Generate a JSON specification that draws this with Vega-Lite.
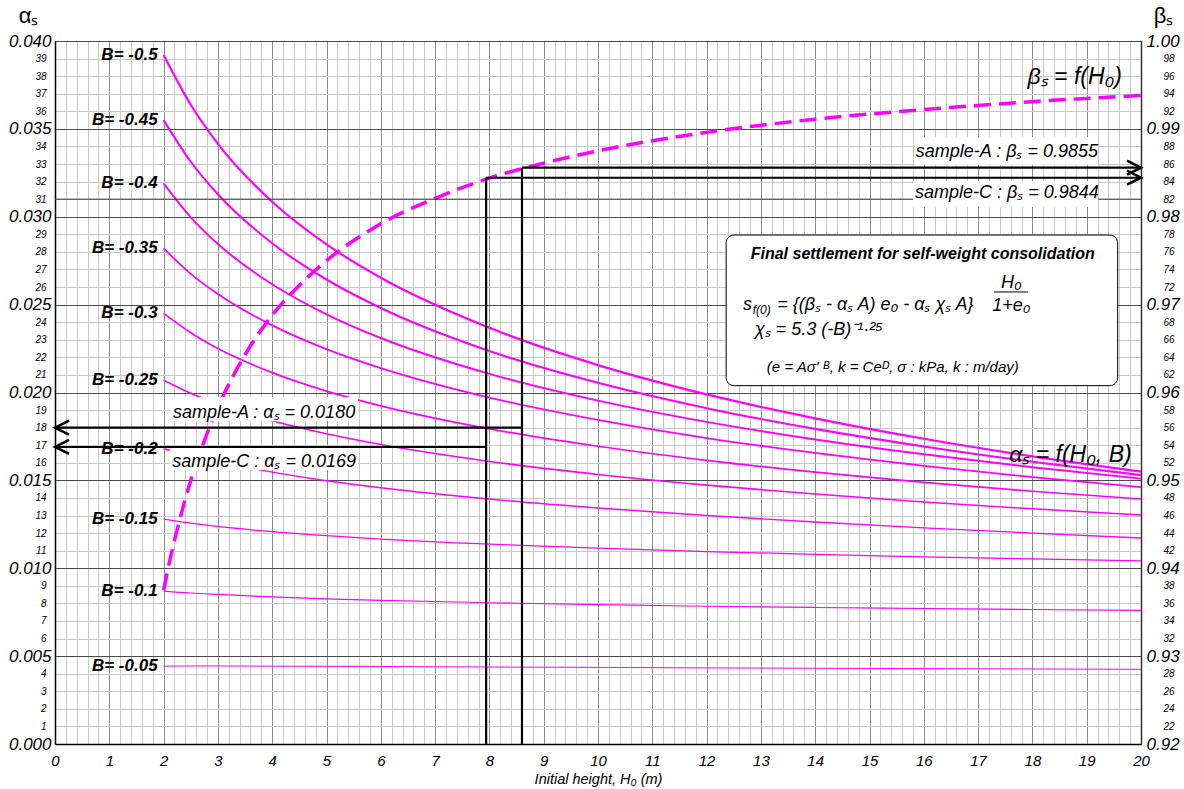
{
"$schema":"https://vega.github.io/schema/vega-lite/v6.json",
"width":1086,"height":703,
"autosize":{"type":"none"},
"padding":{"left":55,"top":41,"right":43,"bottom":45},
"background":"white",
"config":{"view":{"stroke":"#666","strokeWidth":1},"font":"Liberation Sans"},
"datasets":{
"curves":[
{"B":"-0.5","H":2,"a":0.0392},{"B":"-0.5","H":2.5,"a":0.03637},{"B":"-0.5","H":3,"a":0.03415},{"B":"-0.5","H":4,"a":0.03085},{"B":"-0.5","H":5,"a":0.02843},{"B":"-0.5","H":6,"a":0.02653},{"B":"-0.5","H":8,"a":0.02368},{"B":"-0.5","H":10,"a":0.02156},{"B":"-0.5","H":12,"a":0.01989},{"B":"-0.5","H":14,"a":0.01853},{"B":"-0.5","H":16,"a":0.01737},{"B":"-0.5","H":18,"a":0.01637},{"B":"-0.5","H":20,"a":0.0155},
{"B":"-0.45","H":2,"a":0.0355},{"B":"-0.45","H":2.5,"a":0.03313},{"B":"-0.45","H":3,"a":0.03128},{"B":"-0.45","H":4,"a":0.02849},{"B":"-0.45","H":5,"a":0.02643},{"B":"-0.45","H":6,"a":0.02481},{"B":"-0.45","H":8,"a":0.02236},{"B":"-0.45","H":10,"a":0.02055},{"B":"-0.45","H":12,"a":0.01911},{"B":"-0.45","H":14,"a":0.01793},{"B":"-0.45","H":16,"a":0.01693},{"B":"-0.45","H":18,"a":0.01606},{"B":"-0.45","H":20,"a":0.0153},
{"B":"-0.4","H":2,"a":0.0319},{"B":"-0.4","H":2.5,"a":0.02997},{"B":"-0.4","H":3,"a":0.02845},{"B":"-0.4","H":4,"a":0.02616},{"B":"-0.4","H":5,"a":0.02445},{"B":"-0.4","H":6,"a":0.0231},{"B":"-0.4","H":8,"a":0.02106},{"B":"-0.4","H":10,"a":0.01954},{"B":"-0.4","H":12,"a":0.01833},{"B":"-0.4","H":14,"a":0.01733},{"B":"-0.4","H":16,"a":0.01649},{"B":"-0.4","H":18,"a":0.01575},{"B":"-0.4","H":20,"a":0.0151},
{"B":"-0.35","H":2,"a":0.0282},{"B":"-0.35","H":2.5,"a":0.02675},{"B":"-0.35","H":3,"a":0.0256},{"B":"-0.35","H":4,"a":0.02382},{"B":"-0.35","H":5,"a":0.02247},{"B":"-0.35","H":6,"a":0.02139},{"B":"-0.35","H":8,"a":0.01971},{"B":"-0.35","H":10,"a":0.01844},{"B":"-0.35","H":12,"a":0.01741},{"B":"-0.35","H":14,"a":0.01656},{"B":"-0.35","H":16,"a":0.01583},{"B":"-0.35","H":18,"a":0.01519},{"B":"-0.35","H":20,"a":0.01462},
{"B":"-0.3","H":2,"a":0.0245},{"B":"-0.3","H":2.5,"a":0.0234},{"B":"-0.3","H":3,"a":0.0225},{"B":"-0.3","H":4,"a":0.02113},{"B":"-0.3","H":5,"a":0.02008},{"B":"-0.3","H":6,"a":0.01924},{"B":"-0.3","H":8,"a":0.01793},{"B":"-0.3","H":10,"a":0.01694},{"B":"-0.3","H":12,"a":0.01614},{"B":"-0.3","H":14,"a":0.01547},{"B":"-0.3","H":16,"a":0.01489},{"B":"-0.3","H":18,"a":0.01438},{"B":"-0.3","H":20,"a":0.01394},
{"B":"-0.25","H":2,"a":0.0207},{"B":"-0.25","H":2.5,"a":0.01996},{"B":"-0.25","H":3,"a":0.01935},{"B":"-0.25","H":4,"a":0.01839},{"B":"-0.25","H":5,"a":0.01765},{"B":"-0.25","H":6,"a":0.01704},{"B":"-0.25","H":8,"a":0.01608},{"B":"-0.25","H":10,"a":0.01534},{"B":"-0.25","H":12,"a":0.01473},{"B":"-0.25","H":14,"a":0.01422},{"B":"-0.25","H":16,"a":0.01377},{"B":"-0.25","H":18,"a":0.01338},{"B":"-0.25","H":20,"a":0.01303},
{"B":"-0.2","H":2,"a":0.0168},{"B":"-0.2","H":2.5,"a":0.01641},{"B":"-0.2","H":3,"a":0.01606},{"B":"-0.2","H":4,"a":0.01547},{"B":"-0.2","H":5,"a":0.01498},{"B":"-0.2","H":6,"a":0.01458},{"B":"-0.2","H":8,"a":0.01394},{"B":"-0.2","H":10,"a":0.01343},{"B":"-0.2","H":12,"a":0.013},{"B":"-0.2","H":14,"a":0.01263},{"B":"-0.2","H":16,"a":0.0123},{"B":"-0.2","H":18,"a":0.012},{"B":"-0.2","H":20,"a":0.01172},
{"B":"-0.15","H":2,"a":0.0128},{"B":"-0.15","H":2.5,"a":0.01257},{"B":"-0.15","H":3,"a":0.01238},{"B":"-0.15","H":4,"a":0.01208},{"B":"-0.15","H":5,"a":0.01185},{"B":"-0.15","H":6,"a":0.01166},{"B":"-0.15","H":8,"a":0.01137},{"B":"-0.15","H":10,"a":0.01114},{"B":"-0.15","H":12,"a":0.01095},{"B":"-0.15","H":14,"a":0.01079},{"B":"-0.15","H":16,"a":0.01065},{"B":"-0.15","H":18,"a":0.01053},{"B":"-0.15","H":20,"a":0.01042},
{"B":"-0.1","H":2,"a":0.0087},{"B":"-0.1","H":2.5,"a":0.00859},{"B":"-0.1","H":3,"a":0.00851},{"B":"-0.1","H":4,"a":0.00837},{"B":"-0.1","H":5,"a":0.00826},{"B":"-0.1","H":6,"a":0.00817},{"B":"-0.1","H":8,"a":0.00804},{"B":"-0.1","H":10,"a":0.00793},{"B":"-0.1","H":12,"a":0.00784},{"B":"-0.1","H":14,"a":0.00777},{"B":"-0.1","H":16,"a":0.00771},{"B":"-0.1","H":18,"a":0.00765},{"B":"-0.1","H":20,"a":0.0076},
{"B":"-0.05","H":2,"a":0.00443},{"B":"-0.05","H":2.5,"a":0.00444},{"B":"-0.05","H":3,"a":0.00444},{"B":"-0.05","H":4,"a":0.00443},{"B":"-0.05","H":5,"a":0.00442},{"B":"-0.05","H":6,"a":0.00441},{"B":"-0.05","H":8,"a":0.00438},{"B":"-0.05","H":10,"a":0.00436},{"B":"-0.05","H":12,"a":0.00433},{"B":"-0.05","H":14,"a":0.00431},{"B":"-0.05","H":16,"a":0.00429},{"B":"-0.05","H":18,"a":0.00427},{"B":"-0.05","H":20,"a":0.00425}
],
"beta":[
{"H":2,"b":0.9375},{"H":2.1,"b":0.9405},{"H":2.25,"b":0.9444},{"H":2.5,"b":0.95},{"H":2.75,"b":0.9545},{"H":3,"b":0.9583},{"H":3.5,"b":0.9643},{"H":4,"b":0.9688},{"H":4.5,"b":0.9722},{"H":5,"b":0.975},{"H":6,"b":0.9792},{"H":7,"b":0.9821},{"H":8,"b":0.9844},{"H":9,"b":0.9861},{"H":10,"b":0.9875},{"H":12,"b":0.9896},{"H":14,"b":0.9911},{"H":16,"b":0.9922},{"H":18,"b":0.9931},{"H":20,"b":0.9938}
],
"blabels":[
{"H":2,"a":0.0392,"t":"B= -0.5"},{"H":2,"a":0.0355,"t":"B= -0.45"},{"H":2,"a":0.0319,"t":"B= -0.4"},{"H":2,"a":0.0282,"t":"B= -0.35"},{"H":2,"a":0.0245,"t":"B= -0.3"},{"H":2,"a":0.0207,"t":"B= -0.25"},{"H":2,"a":0.0168,"t":"B= -0.2"},{"H":2,"a":0.0128,"t":"B= -0.15"},{"H":2,"a":0.0087,"t":"B= -0.1"},{"H":2,"a":0.00443,"t":"B= -0.05"}
],
"hline":[{"H":0,"H2":20,"a":0.031,"a2":0.031}],
"boxes":[
{"H":2.12,"H2":5.58,"a":0.01837,"a2":0.01974},
{"H":2.12,"H2":5.58,"a":0.01559,"a2":0.01684},
{"H":15.84,"H2":19.21,"a":0.03294,"a2":0.03454},
{"H":15.8,"H2":19.21,"a":0.03056,"a2":0.03203}
],
"segs":[
{"H":8.6,"H2":8.6,"a":0,"a2":0.03279},
{"H":7.94,"H2":7.94,"a":0,"a2":0.03222},
{"H":8.6,"H2":20,"a":0.03279,"a2":0.03279},
{"H":7.94,"H2":20,"a":0.03222,"a2":0.03222},
{"H":8.6,"H2":0,"a":0.018,"a2":0.018},
{"H":7.94,"H2":0,"a":0.0169,"a2":0.0169}
],
"arrows":[
{"H":20,"a":0.03279,"d":"right"},{"H":20,"a":0.03222,"d":"right"},{"H":0,"a":0.018,"d":"left"},{"H":0,"a":0.0169,"d":"left"}
],
"slabels":[
{"H":3.85,"a":0.01883,"t":"sample-A : αₛ = 0.0180"},
{"H":3.85,"a":0.01605,"t":"sample-C : αₛ = 0.0169"},
{"H":17.53,"a":0.03368,"t":"sample-A : βₛ = 0.9855"},
{"H":17.53,"a":0.03135,"t":"sample-C : βₛ = 0.9844"}
],
"biglabels":[
{"H":18.78,"a":0.03795,"t":"βₛ = f(H₀)"},
{"H":18.7,"a":0.01644,"t":"αₛ = f(H₀, B)"}
],
"fbox":[{"H":12.36,"H2":19.57,"a":0.02039,"a2":0.02896}],
"ftitle":[{"H":15.98,"a":0.02788,"t":"Final settlement for self-weight consolidation"}],
"fmain":[
{"H":12.67,"a":0.02498,"t":"s"},
{"H":13.3,"a":0.02498,"t":"= {(βₛ - αₛ A) e₀ - αₛ χₛ A}"},
{"H":12.89,"a":0.02356,"t":"χₛ = 5.3 (-B)⁻¹·²⁵"}
],
"fsmall":[
{"H":12.85,"a":0.02472,"t":"f(0)"}
],
"ffrac":[
{"H":17.61,"a":0.02623,"t":"H₀"},
{"H":17.61,"a":0.02492,"t":"1+e₀"}
],
"fline":[{"H":17.29,"H2":17.92,"a":0.02572,"a2":0.02572}],
"fnote":[{"H":13.11,"a":0.02145,"t":"(e = Aσ' ᴮ, k = Ceᴰ, σ : kPa, k : m/day)"}]
},
"resolve":{"scale":{"y":"independent"}},
"layer":[
{
"data":{"name":"curves"},
"mark":{"type":"line","color":"#ff00ff","clip":true,"interpolate":"monotone"},
"encoding":{
"x":{"field":"H","type":"quantitative","scale":{"domain":[0,20],"nice":false,"zero":false},
"axis":{"orient":"bottom","tickCount":100,"ticks":false,"domainColor":"#000","domainWidth":1.5,
"labelOverlap":false,"labelFlush":false,"labelBound":false,
"labelExpr":"abs(datum.value-round(datum.value))<0.01 ? '' + round(datum.value) : ''",
"labelFontSize":15,"labelFontStyle":"italic","labelColor":"#000","labelPadding":9,
"grid":true,"gridWidth":1,
"gridColor":{"condition":{"test":"abs(datum.value-round(datum.value))<0.01","value":"#8c8c8c"},"value":"#c8c8c8"},
"title":"Initial height, H₀ (m)","titleFontSize":14.5,"titleFontWeight":"normal","titleFontStyle":"italic","titleY":35,"titleBaseline":"middle","titleColor":"#000"}},
"y":{"field":"a","type":"quantitative","scale":{"domain":[0,0.04],"nice":false,"zero":false},
"axis":{"orient":"left","tickCount":40,"ticks":false,"domainColor":"#000","domainWidth":1.5,
"labelOverlap":false,"labelFlush":false,"labelBound":false,
"labelExpr":"abs(datum.value*200-round(datum.value*200))<0.01 ? format(datum.value,'.3f') : format(round(datum.value*1000),'d')",
"labelFontSize":{"condition":{"test":"abs(datum.value*200-round(datum.value*200))<0.01","value":17},"value":10},
"labelPadding":{"condition":{"test":"abs(datum.value*200-round(datum.value*200))<0.01","value":4},"value":9},
"labelFontStyle":"italic","labelColor":"#000",
"grid":true,"gridWidth":1,
"gridColor":{"condition":{"test":"abs(datum.value*200-round(datum.value*200))<0.01","value":"#4a4a4a"},"value":"#c8c8c8"},
"title":"αₛ","titleAngle":0,"titleX":-27,"titleY":-26,"titleAlign":"center","titleBaseline":"middle","titleFontSize":22,"titleFontWeight":"normal","titleColor":"#000"}},
"detail":{"field":"B","type":"nominal"},
"strokeWidth":{"field":"B","type":"nominal","legend":null,
"scale":{"domain":["-0.5","-0.45","-0.4","-0.35","-0.3","-0.25","-0.2","-0.15","-0.1","-0.05"],"range":[2.2,1,2.2,1,2.2,1,2.2,1,2.2,2.2]}}
}
},
{
"data":{"name":"beta"},
"mark":{"type":"line","color":"#ff00ff","strokeWidth":3.5,"strokeDash":[17,8],"clip":true,"interpolate":"monotone"},
"encoding":{
"x":{"field":"H","type":"quantitative"},
"y":{"field":"b","type":"quantitative","scale":{"domain":[0.92,1.0],"nice":false,"zero":false},
"axis":{"orient":"right","tickCount":40,"ticks":false,"domainColor":"#333","domainWidth":1.5,"grid":false,
"labelOverlap":false,"labelFlush":false,"labelBound":false,
"labelExpr":"abs(datum.value*100-round(datum.value*100))<0.01 ? format(datum.value,'.2f') : format(round(datum.value*1000)%100,'d')",
"labelFontSize":{"condition":{"test":"abs(datum.value*100-round(datum.value*100))<0.01","value":17},"value":10},
"labelPadding":{"condition":{"test":"abs(datum.value*100-round(datum.value*100))<0.01","value":5},"value":22},
"labelFontStyle":"italic","labelColor":"#000",
"title":"βₛ","titleAngle":0,"titleX":22,"titleY":-26,"titleAlign":"center","titleBaseline":"middle","titleFontSize":22,"titleFontWeight":"normal","titleColor":"#000"}}
}
},
{
"layer":[
{"data":{"name":"hline"},"mark":{"type":"rule","color":"#333","strokeWidth":1},
"encoding":{"x":{"field":"H","type":"quantitative"},"x2":{"field":"H2"},
"y":{"field":"a","type":"quantitative","scale":{"domain":[0,0.04],"nice":false,"zero":false},"axis":null},"y2":{"field":"a2"}}},
{"data":{"name":"boxes"},"mark":{"type":"rect","fill":"white","stroke":null},
"encoding":{"x":{"field":"H","type":"quantitative"},"x2":{"field":"H2"},
"y":{"field":"a","type":"quantitative","axis":null},"y2":{"field":"a2"}}},
{"data":{"name":"segs"},"mark":{"type":"rule","color":"#000","strokeWidth":2.2},
"encoding":{"x":{"field":"H","type":"quantitative"},"x2":{"field":"H2"},
"y":{"field":"a","type":"quantitative","axis":null},"y2":{"field":"a2"}}},
{"data":{"name":"arrows"},"mark":{"type":"point","filled":false,"stroke":"#000","strokeWidth":2.5,"size":784,"opacity":1},
"encoding":{"x":{"field":"H","type":"quantitative"},
"y":{"field":"a","type":"quantitative","axis":null},
"shape":{"field":"d","type":"nominal","legend":null,"scale":{"domain":["right","left"],"range":["M-1,-0.5L0,0L-1,0.5","M1,-0.5L0,0L1,0.5"]}}}},
{"data":{"name":"blabels"},"mark":{"type":"text","align":"right","baseline":"middle","dx":-6,"fontSize":17,"fontWeight":"bold","fontStyle":"italic","color":"#000"},
"encoding":{"x":{"field":"H","type":"quantitative"},"y":{"field":"a","type":"quantitative","axis":null},"text":{"field":"t"}}},
{"data":{"name":"slabels"},"mark":{"type":"text","align":"center","baseline":"middle","fontSize":18,"fontStyle":"italic","color":"#000"},
"encoding":{"x":{"field":"H","type":"quantitative"},"y":{"field":"a","type":"quantitative","axis":null},"text":{"field":"t"}}},
{"data":{"name":"biglabels"},"mark":{"type":"text","align":"center","baseline":"middle","fontSize":23,"fontStyle":"italic","color":"#000"},
"encoding":{"x":{"field":"H","type":"quantitative"},"y":{"field":"a","type":"quantitative","axis":null},"text":{"field":"t"}}},
{"data":{"name":"fbox"},"mark":{"type":"rect","fill":"white","stroke":"#000","strokeWidth":1,"cornerRadius":8},
"encoding":{"x":{"field":"H","type":"quantitative"},"x2":{"field":"H2"},
"y":{"field":"a","type":"quantitative","axis":null},"y2":{"field":"a2"}}},
{"data":{"name":"ftitle"},"mark":{"type":"text","align":"center","baseline":"middle","fontSize":16,"fontWeight":"bold","fontStyle":"italic","color":"#000"},
"encoding":{"x":{"field":"H","type":"quantitative"},"y":{"field":"a","type":"quantitative","axis":null},"text":{"field":"t"}}},
{"data":{"name":"fmain"},"mark":{"type":"text","align":"left","baseline":"middle","fontSize":18,"fontStyle":"italic","color":"#000"},
"encoding":{"x":{"field":"H","type":"quantitative"},"y":{"field":"a","type":"quantitative","axis":null},"text":{"field":"t"}}},
{"data":{"name":"fsmall"},"mark":{"type":"text","align":"left","baseline":"middle","fontSize":12,"fontStyle":"italic","color":"#000"},
"encoding":{"x":{"field":"H","type":"quantitative"},"y":{"field":"a","type":"quantitative","axis":null},"text":{"field":"t"}}},
{"data":{"name":"ffrac"},"mark":{"type":"text","align":"center","baseline":"middle","fontSize":18,"fontStyle":"italic","color":"#000"},
"encoding":{"x":{"field":"H","type":"quantitative"},"y":{"field":"a","type":"quantitative","axis":null},"text":{"field":"t"}}},
{"data":{"name":"fline"},"mark":{"type":"rule","color":"#000","strokeWidth":1},
"encoding":{"x":{"field":"H","type":"quantitative"},"x2":{"field":"H2"},
"y":{"field":"a","type":"quantitative","axis":null},"y2":{"field":"a2"}}},
{"data":{"name":"fnote"},"mark":{"type":"text","align":"left","baseline":"middle","fontSize":15,"fontStyle":"italic","color":"#000"},
"encoding":{"x":{"field":"H","type":"quantitative"},"y":{"field":"a","type":"quantitative","axis":null},"text":{"field":"t"}}}
]
}
]
}
